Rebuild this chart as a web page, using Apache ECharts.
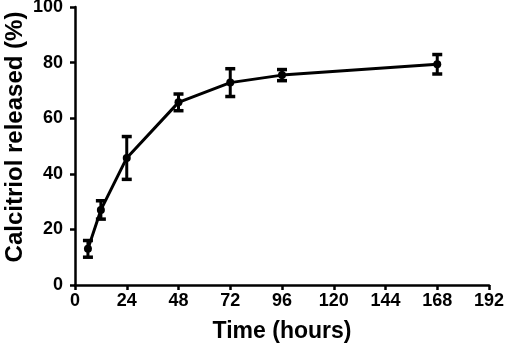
<!DOCTYPE html>
<html><head><meta charset="utf-8">
<script src="https://cdn.jsdelivr.net/npm/echarts@6/dist/echarts.min.js"></script>
<style>html,body{margin:0;padding:0;background:#fff}#c{width:506px;height:351px}</style>
</head><body><div id="c"></div>
<script>
const timeHours = [6, 12, 24, 48, 72, 96, 168];
const released = [13.0, 27.0, 45.7, 65.7, 72.8, 75.5, 79.4];
const errSD = [3.0, 3.3, 7.7, 3.0, 5.0, 2.0, 3.5];
const xTicks = [0, 24, 48, 72, 96, 120, 144, 168, 192];
const yTicks = [0, 20, 40, 60, 80, 100];

const font = '"Liberation Sans", Arial, sans-serif';
const chart = echarts.init(document.getElementById('c'));
const lineData = timeHours.map((t, i) => [t, released[i]]);
const errData = timeHours.map((t, i) => [t, released[i] - errSD[i], released[i] + errSD[i]]);
chart.setOption({
  animation: false,
  grid: {left: 75, right: 17, top: 7, bottom: 66, containLabel: false, outerBoundsMode: 'none'},
  xAxis: {
    type: 'value', min: xTicks[0], max: xTicks[xTicks.length - 1], interval: 24,
    name: 'Time (hours)', nameLocation: 'middle', nameGap: 35,
    nameTextStyle: {fontFamily: font, fontWeight: 'bold', fontSize: 23, color: '#000'},
    axisLine: {lineStyle: {color: '#000', width: 2.5}},
    axisTick: {length: 5, lineStyle: {color: '#000', width: 2.5}},
    axisLabel: {fontFamily: font, fontWeight: 'bold', fontSize: 18, color: '#000', margin: 7},
    splitLine: {show: false}
  },
  yAxis: {
    type: 'value', min: yTicks[0], max: yTicks[yTicks.length - 1], interval: 20,
    name: 'Calcitriol released (%)', nameLocation: 'middle', nameGap: 48, nameMoveOverlap: false,
    nameTextStyle: {fontFamily: font, fontWeight: 'bold', fontSize: 24, color: '#000', padding: [0, 0, 0, 18]},
    axisLine: {show: true, lineStyle: {color: '#000', width: 2.5}},
    axisTick: {show: true, length: 5, lineStyle: {color: '#000', width: 2.5}},
    axisLabel: {fontFamily: font, fontWeight: 'bold', fontSize: 18, color: '#000', margin: 12},
    splitLine: {show: false}
  },
  series: [
    {
      type: 'custom',
      data: errData,
      renderItem: function (params, api) {
        const x = api.value(0);
        const lo = api.coord([x, api.value(1)]);
        const hi = api.coord([x, api.value(2)]);
        const cap = 5;
        const st = {stroke: '#000', lineWidth: 3};
        return {type: 'group', children: [
          {type: 'line', shape: {x1: lo[0], y1: lo[1], x2: hi[0], y2: hi[1]}, style: st},
          {type: 'line', shape: {x1: lo[0] - cap, y1: lo[1], x2: lo[0] + cap, y2: lo[1]}, style: {stroke: '#000', lineWidth: 3.5}},
          {type: 'line', shape: {x1: hi[0] - cap, y1: hi[1], x2: hi[0] + cap, y2: hi[1]}, style: {stroke: '#000', lineWidth: 3.5}}
        ]};
      },
      z: 3
    },
    {
      type: 'line', data: lineData,
      symbol: 'circle', symbolSize: 8,
      itemStyle: {color: '#000'},
      lineStyle: {color: '#000', width: 3},
      z: 4
    }
  ]
});
</script></body></html>
